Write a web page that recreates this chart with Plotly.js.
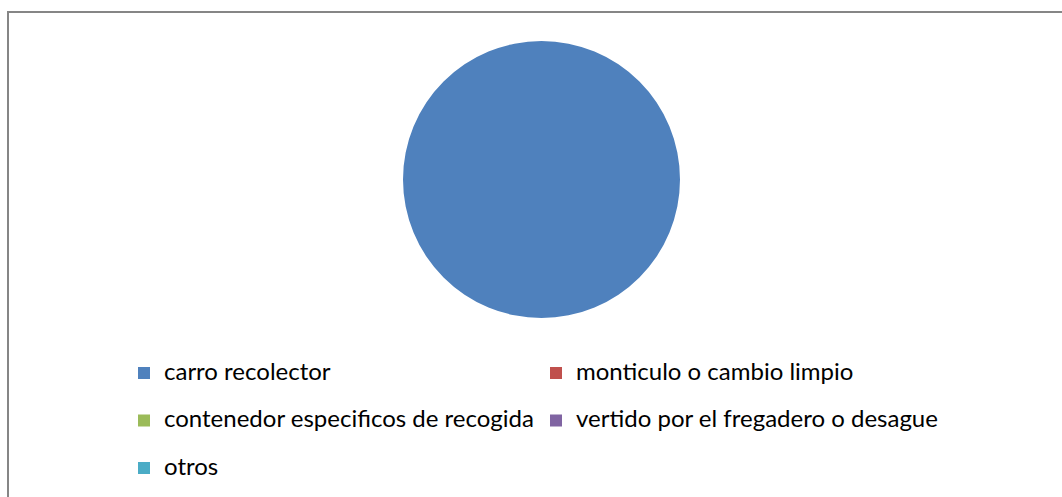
<!DOCTYPE html>
<html>
<head>
<meta charset="utf-8">
<script src="https://cdn.plot.ly/plotly-3.0.1.min.js"></script>
<style>html,body{margin:0;padding:0;background:#fff;}#chart{width:1062px;height:497px;}</style>
</head>
<body>
<div id="chart"></div>
<script>
const labels = ["carro recolector", "monticulo o cambio limpio", "contenedor especificos de recogida", "vertido por el fregadero o desague", "otros"];
const values = [100, 0, 0, 0, 0];
const colors = ["#4F81BD", "#C0504D", "#9BBB59", "#8064A2", "#4BACC6"];

const legendText = labels.map(l => '<span style="font-size:24px">' + l + '</span><br>\u00A0');

const W = 1062, H = 497;
const trace = {
  type: 'pie',
  labels: legendText,
  values: values,
  marker: { colors: colors, line: { width: 0 } },
  sort: false,
  direction: 'clockwise',
  textinfo: 'none',
  hoverinfo: 'percent',
  domain: { x: [403 / W, 680 / W], y: [1 - 318 / H, 1 - 41 / H] },
  showlegend: true
};

const layout = {
  width: W, height: H,
  margin: { l: 0, r: 0, t: 0, b: 0, autoexpand: false },
  paper_bgcolor: '#fff',
  font: { family: 'Lato, "Open Sans", sans-serif', color: '#000' },
  showlegend: true,
  legend: {
    orientation: 'h',
    xref: 'container', yref: 'container',
    x: 124 / W, xanchor: 'left',
    y: 1 - 355.5 / H, yanchor: 'top',
    font: { size: 17.1, color: '#000', family: 'Lato, "Open Sans", sans-serif' },
    valign: 'top',
    entrywidth: 367, entrywidthmode: 'pixels',
    traceorder: 'normal',
    bgcolor: 'rgba(0,0,0,0)'
  },
  shapes: [{
    type: 'rect', xref: 'paper', yref: 'paper',
    x0: 8 / W, x1: 1.05, y0: -0.05, y1: 1 - 12 / H,
    line: { color: '#868686', width: 2 }, fillcolor: 'rgba(0,0,0,0)'
  }]
};

Plotly.newPlot('chart', [trace], layout, { displayModeBar: false, staticPlot: true });
</script>
</body>
</html>
